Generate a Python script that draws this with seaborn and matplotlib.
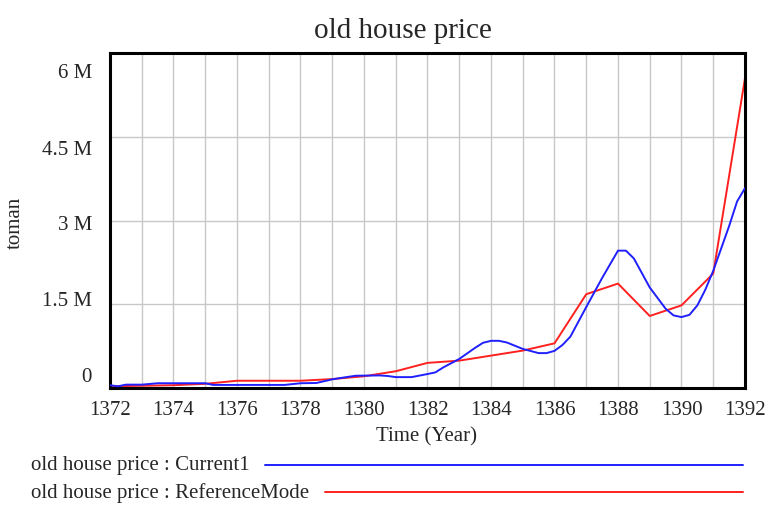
import numpy as np
import pandas as pd
import matplotlib
matplotlib.use("Agg")
import matplotlib.pyplot as plt
from matplotlib.lines import Line2D
import matplotlib.transforms as mtransforms
import seaborn as sns

# ---------------- data ----------------
current_years = [1372.0, 1372.25, 1372.5, 1373.0, 1373.5, 1374.0, 1375.0, 1375.25,
                 1377.5, 1378.0, 1378.5, 1379.0, 1379.5, 1379.75, 1380.5, 1380.75,
                 1381.0, 1381.5, 1382.0, 1382.25, 1382.5, 1383.0, 1383.5, 1383.75,
                 1384.0, 1384.25, 1384.5, 1385.0, 1385.5, 1385.75, 1386.0, 1386.25,
                 1386.5, 1387.0, 1387.5, 1388.0, 1388.25, 1388.5, 1389.0, 1389.5,
                 1389.75, 1390.0, 1390.25, 1390.5, 1390.75, 1391.0, 1391.25, 1391.5,
                 1391.75, 1392.0]
current_values = [0.05, 0.03, 0.06, 0.06, 0.085, 0.085, 0.085, 0.055,
                  0.055, 0.085, 0.09, 0.155, 0.20, 0.22, 0.225, 0.215,
                  0.195, 0.195, 0.25, 0.28, 0.37, 0.52, 0.72, 0.81,
                  0.845, 0.845, 0.815, 0.70, 0.625, 0.625, 0.665, 0.77,
                  0.92, 1.45, 1.97, 2.46, 2.46, 2.32, 1.80, 1.42,
                  1.30, 1.27, 1.31, 1.48, 1.76, 2.10, 2.50, 2.90,
                  3.34, 3.58]  # millions of toman

ref_years = list(range(1372, 1393))
ref_values = [0.03, 0.04, 0.05, 0.075, 0.13, 0.13, 0.13, 0.16, 0.21, 0.30, 0.45,
              0.49, 0.58, 0.67, 0.80, 1.68, 1.87, 1.29, 1.48, 2.05, 5.55]  # millions

y_ticks = [0, 1.5e6, 3e6, 4.5e6, 6e6]
y_tick_labels = ["0", "1.5 M", "3 M", "4.5 M", "6 M"]
x_ticks_major = list(range(1372, 1393, 2))
series_names = ["old house price : Current1", "old house price : ReferenceMode"]

# ---------------- style ----------------
sns.set_style("white")
plt.rcParams['font.family'] = ['Liberation Serif', 'DejaVu Serif']

W, H = 769, 506
fig = plt.figure(figsize=(W / 100, H / 100), dpi=100)
ax = fig.add_axes([110 / W, 1 - 389 / H, 635 / W, 335 / H])

df_cur = pd.DataFrame({"Time": current_years, "value": np.array(current_values) * 1e6})
df_ref = pd.DataFrame({"Time": ref_years, "value": np.array(ref_values) * 1e6})

BLUE = "#2020ff"
RED = "#ff2020"
sns.lineplot(data=df_cur, x="Time", y="value", ax=ax, color=BLUE, linewidth=1.4, zorder=3)
sns.lineplot(data=df_ref, x="Time", y="value", ax=ax, color=RED, linewidth=1.4, zorder=2)

ax.set_xlim(1372, 1392)
ax.set_ylim(0, 6e6)

# grid every year / every 1.5 M
ax.set_xticks(range(1372, 1393))
ax.set_xticklabels([str(y) if y in x_ticks_major else "" for y in range(1372, 1393)], fontsize=15)
ax.set_yticks(y_ticks)
ax.set_yticklabels(y_tick_labels, fontsize=15)
ax.grid(True, color="#c8c8c8", linewidth=1.0)
ax.tick_params(axis="both", length=0)
ax.tick_params(axis="x", pad=9)
ax.tick_params(axis="y", pad=13)
ax.set_xlabel("")
ax.set_ylabel("")

# Vensim-style label placement for y labels
offsets_px = [14, 6, -1, -10, -17]
for lab, dy in zip(ax.get_yticklabels(), offsets_px):
    lab.set_transform(lab.get_transform() + mtransforms.ScaledTranslation(0, dy / 100, fig.dpi_scale_trans))

for s in ax.spines.values():
    s.set_color("black")
    s.set_linewidth(2.2)

# texts
fig.text(403 / W, 1 - 31 / H, "old house price", ha="center", va="center", fontsize=21)
fig.text(15 / W, 1 - 223 / H, "toman", ha="center", va="center", rotation=90, fontsize=15)
fig.text(427 / W, 1 - 437 / H, "Time (Year)", ha="center", va="center", fontsize=15)

# legend
fig.text(31 / W, 1 - 466 / H, series_names[0], ha="left", va="center", fontsize=15)
fig.text(31 / W, 1 - 493 / H, series_names[1], ha="left", va="center", fontsize=15)
fig.add_artist(Line2D([265 / W, 743 / W], [1 - 466 / H, 1 - 466 / H], color=BLUE,
                      linewidth=1.4, transform=fig.transFigure))
fig.add_artist(Line2D([325 / W, 743 / W], [1 - 493 / H, 1 - 493 / H], color=RED,
                      linewidth=1.4, transform=fig.transFigure))

fig.savefig("out.png", dpi=100)
